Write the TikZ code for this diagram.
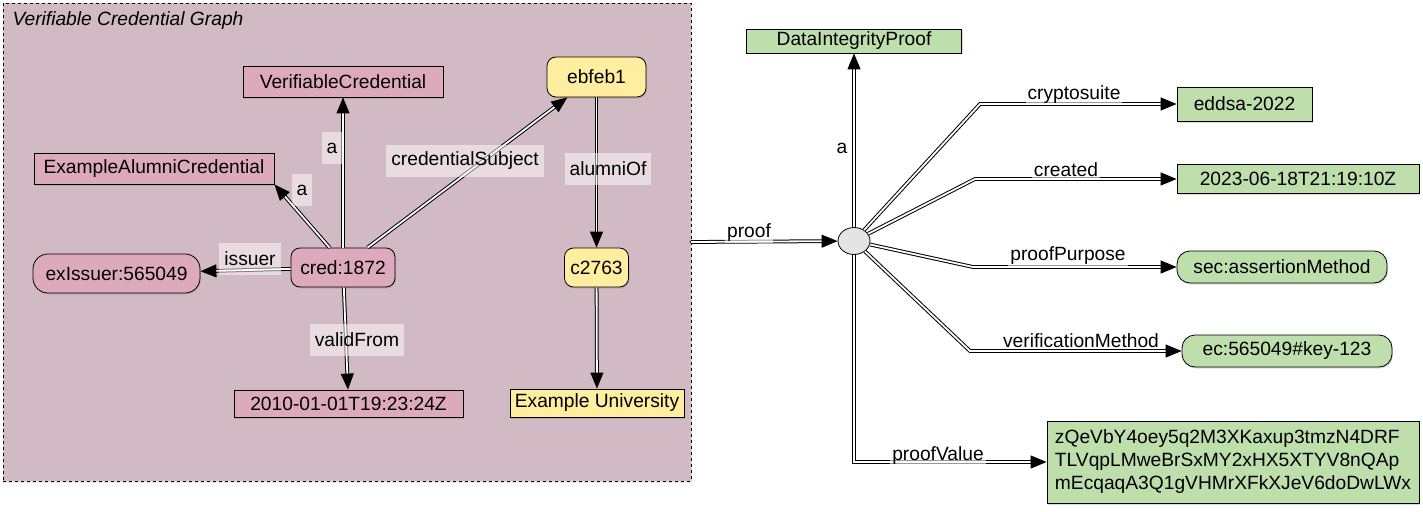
\documentclass[tikz,border=0pt]{standalone}
\usepackage{fontspec}
\setmainfont{Liberation Sans}
\usepackage{tikz}
\usetikzlibrary{arrows.meta,shapes.geometric,shadows,positioning}

\definecolor{graphbg}{RGB}{209,186,196}
\definecolor{credpink}{RGB}{220,170,188}
\definecolor{subjyellow}{RGB}{255,238,160}
\definecolor{proofgreen}{RGB}{190,222,172}
\definecolor{blankgray}{RGB}{228,228,228}

\tikzset{
    every node/.style={font=\fontsize{19.2}{23}\selectfont},
    term/.style={draw, line width=0.8pt, inner sep=0pt,
        drop shadow={shadow xshift=1pt, shadow yshift=-1.5pt, opacity=0.3}},
    iri/.style={term, rounded corners=9pt},
    link/.style={line width=1pt, double=white, double distance=1.8pt,
        -{Triangle[length=16pt,width=13pt,fill=black]}},
    elabel/.style={fill=white, fill opacity=0.5, text opacity=1,
        inner xsep=5pt, inner ysep=0pt, minimum height=32pt},
    plabel/.style={anchor=base, fill=white, fill opacity=0.6, text opacity=1,
        inner sep=2pt}
}

\begin{document}
\begin{tikzpicture}[x=1pt,y=-1pt]
    \useasboundingbox (0,0) rectangle (1423,511);

    % Graph box with title
    \node[draw, dashed, fill=graphbg, minimum width=688pt, minimum height=478pt,
        drop shadow={shadow xshift=1pt, shadow yshift=-2pt, opacity=0.2}]
        (vcgraph) at (347,242) {};
    \node[anchor=base west, font=\fontsize{19.2}{23}\selectfont\itshape]
        (vctitle) at (9,26) {Verifiable Credential Graph};

    % Credential nodes
    \node[term, fill=credpink, minimum width=200pt, minimum height=31pt]
        (vc) at (343,81.5) {VerifiableCredential};
    \node[term, fill=credpink, minimum width=240pt, minimum height=31pt]
        (eac) at (154,168.5) {ExampleAlumniCredential};
    \node[iri, fill=credpink, minimum width=104pt, minimum height=39pt]
        (cred) at (343,267.5) {cred:1872};
    \node[iri, fill=credpink, rounded corners=15pt, minimum width=167pt, minimum height=39pt]
        (issuer) at (116.5,273.5) {exIssuer:565049};
    \node[term, fill=credpink, minimum width=229pt, minimum height=27pt]
        (validdate) at (348.5,403.5) {2010-01-01T19:23:24Z};

    % Subject nodes
    \node[iri, fill=subjyellow, minimum width=99pt, minimum height=40pt]
        (subject) at (596.5,77) {ebfeb1};
    \node[iri, fill=subjyellow, minimum width=64pt, minimum height=39pt]
        (alumni) at (596.5,267.5) {c2763};
    \node[term, fill=subjyellow, minimum width=174pt, minimum height=28pt]
        (univ) at (597,403) {Example University};

    % Proof nodes
    \node[term, fill=proofgreen, minimum width=215pt, minimum height=24pt]
        (dip) at (854,41) {DataIntegrityProof};
    \node[draw, ellipse, fill=blankgray, line width=0.8pt, inner sep=0pt,
        minimum width=32pt, minimum height=27pt] (proof) at (854,241) {};
    \node[term, fill=proofgreen, minimum width=135pt, minimum height=34pt]
        (suite) at (1244.5,104) {eddsa-2022};
    \node[term, fill=proofgreen, minimum width=242pt, minimum height=29pt]
        (created) at (1298,179) {2023-06-18T21:19:10Z};
    \node[iri, fill=proofgreen, rounded corners=13pt, minimum width=210pt, minimum height=32pt]
        (purpose) at (1282,267) {sec:assertionMethod};
    \node[iri, fill=proofgreen, rounded corners=13pt, minimum width=210pt, minimum height=32pt]
        (vmethod) at (1287,351) {ec:565049\#key-123};
    \node[term, fill=proofgreen, minimum width=372pt, minimum height=82pt,
        align=left, font=\fontsize{19.2}{23}\selectfont]
        (pvalue) at (1233,462) {zQeVbY4oey5q2M3XKaxup3tmzN4DRF\\
        TLVqpLMweBrSxMY2xHX5XTYV8nQAp\\mEcqaqA3Q1gVHMrXFkXJeV6doDwLWx};

    % Bends of the proof links
    \coordinate (bsuite) at (980,104);
    \coordinate (bcreated) at (975,179);
    \coordinate (bpurpose) at (973,267);
    \coordinate (bmethod) at (970,351);
    \coordinate (bvalue) at (854,462);

    % Credential links
    \draw[link] (cred.124) -- (eac.south east);
    \draw[link] (cred) -- (vc);
    \draw[link] (cred.39) -- (subject.215);
    \draw[link] (cred) -- (issuer);
    \draw[link] (cred) -- (validdate);
    \draw[link] (subject) -- (alumni);
    \draw[link] (alumni) -- (univ);

    % Proof links
    \draw[link, line cap=round] (vcgraph.east) -- (proof);
    \draw[link] (proof) -- (dip);
    \draw[link] (proof) -- (bsuite) -- (suite);
    \draw[link] (proof) -- (bcreated) -- (created);
    \draw[link] (proof) -- (bpurpose) -- (purpose);
    \draw[link] (proof) -- (bmethod) -- (vmethod);
    \draw[link] (proof) -- (bvalue) -- (pvalue);

    % Link labels inside the graph
    \node[elabel] (la-vc) at (332,148) {a};
    \node[elabel] (la-eac) at (302,190) {a};
    \node[elabel] (l-subject) at (465,161) {credentialSubject};
    \node[elabel] (l-issuer) at (250,259) {issuer};
    \node[elabel] (l-valid) at (357,340) {validFrom};
    \node[elabel] (l-alumni) at (608,169) {alumniOf};

    % Link labels of the proof
    \node[plabel] (l-proof) at (749,237) {proof};
    \node[anchor=base] (la-dip) at (842,153) {a};
    \node[plabel] (l-suite) at (1074,99) {cryptosuite};
    \node[plabel] (l-created) at (1066,176) {created};
    \node[plabel] (l-purpose) at (1068,260) {proofPurpose};
    \node[plabel] (l-method) at (1081,347) {verificationMethod};
    \node[plabel] (l-value) at (938,460) {proofValue};

\end{tikzpicture}
\end{document}
